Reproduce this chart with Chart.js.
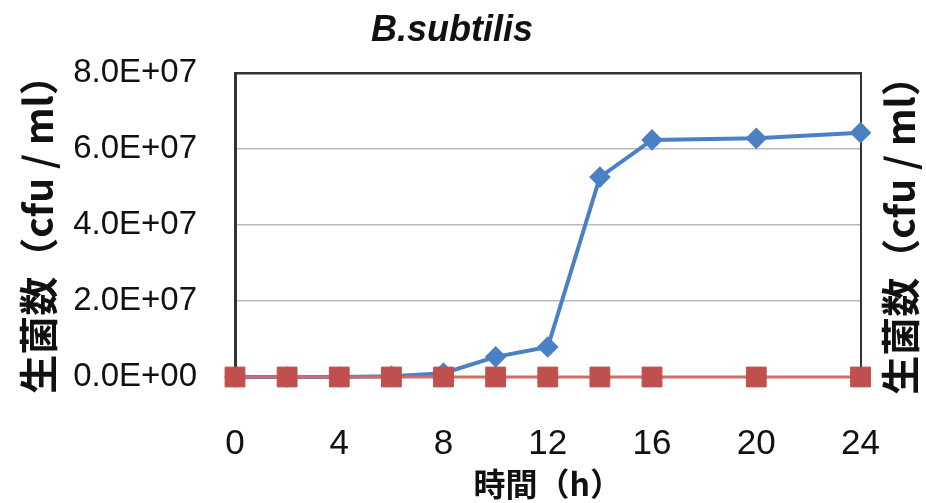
<!DOCTYPE html>
<html><head><meta charset="utf-8">
<script src="https://cdn.jsdelivr.net/npm/chart.js@4/dist/chart.umd.min.js"></script>
<style>html,body{margin:0;padding:0;background:#fff;}#wrap{width:926px;height:503px;}</style>
</head><body><div id="wrap"><canvas id="c" width="926" height="503"></canvas></div>
<script>
const hours = [0, 2, 4, 6, 8, 10, 12, 14, 16, 20, 24];
const blueCounts = [0, 0, 0, 0.2e6, 1.0e6, 5.3e6, 7.9e6, 5.26e7, 6.24e7, 6.28e7, 6.43e7];
const redCounts = [0, 0, 0, 0, 0, 0, 0, 0, 0, 0, 0];
const yTickValues = [0, 2e7, 4e7, 6e7, 8e7];
const xTickValues = [0, 4, 8, 12, 16, 20, 24];
const titleText = 'B.subtilis';
const yTitle = '生菌数（cfu / ml）';
const xTitle = '時間（h）';

function sci(v) {
  const [m, e] = v.toExponential(1).split('e');
  const n = parseInt(e, 10);
  return m.toUpperCase() + 'E' + (n < 0 ? '-' : '+') + String(Math.abs(n)).padStart(2, '0');
}

const rightTitle = {
  id: 'rightTitle',
  afterDraw(chart) {
    const ctx = chart.ctx;
    const a = chart.chartArea;
    ctx.save();
    ctx.translate(900, (a.top + a.bottom) / 2 + 1);
    ctx.rotate(-Math.PI / 2);
    ctx.font = "bold 39px 'Noto Sans CJK JP'";
    ctx.fillStyle = '#111';
    ctx.textAlign = 'center';
    ctx.textBaseline = 'middle';
    ctx.fillText(yTitle, 0, 0);
    ctx.restore();
  }
};

new Chart(document.getElementById('c'), {
  type: 'line',
  data: {
    datasets: [
      {
        label: 'red',
        data: hours.map((h, i) => ({x: h, y: redCounts[i]})),
        borderColor: '#D46B6B',
        backgroundColor: '#C0504D',
        pointBackgroundColor: '#C0504D',
        pointBorderColor: '#C0504D',
        borderWidth: 3,
        pointStyle: 'rect',
        pointRadius: 14,
        pointBorderWidth: 1,
        clip: false
      },
      {
        label: 'blue',
        data: hours.map((h, i) => ({x: h, y: blueCounts[i]})),
        borderColor: '#4A80C4',
        backgroundColor: '#4A80C4',
        pointBackgroundColor: '#4A80C4',
        pointBorderColor: '#4A80C4',
        borderWidth: 4,
        pointStyle: 'rectRot',
        pointRadius: 8,
        clip: false
      }
    ]
  },
  options: {
    responsive: false,
    animation: false,
    devicePixelRatio: 1,
    layout: {padding: {left: 0, top: 0, bottom: 0, right: 22}},
    plugins: {
      legend: {display: false},
      tooltip: {enabled: false},
      title: {
        display: true,
        text: titleText,
        color: '#111',
        font: {family: "'Liberation Sans', Arial, sans-serif", size: 36, weight: 'bold', style: 'italic'},
        padding: {top: 9, bottom: 20.8}
      }
    },
    scales: {
      x: {
        type: 'linear',
        min: 0, max: 24,
        afterBuildTicks: s => { s.ticks = xTickValues.map(v => ({value: v})); },
        grid: {display: false, drawTicks: false},
        border: {display: true, color: '#333', width: 2},
        ticks: {
          padding: 46,
          color: '#111',
          font: {family: "'Liberation Sans', Arial, sans-serif", size: 35}
        },
        title: {
          display: true,
          text: xTitle,
          color: '#111',
          font: {family: "'Noto Sans CJK JP', sans-serif", size: 32, weight: 'bold'},
          padding: {top: 0, bottom: 0}
        },
        afterFit: s => { s.height = 126; }
      },
      y: {
        position: 'left',
        min: 0, max: 8e7,
        afterBuildTicks: s => { s.ticks = yTickValues.map(v => ({value: v})); },
        grid: {
          drawTicks: false,
          color: c => (c.tick && c.tick.value === 8e7) ? '#333' : '#BBBBBB',
          lineWidth: c => (c.tick && c.tick.value === 8e7) ? 2.5 : 1.5
        },
        border: {display: true, color: '#333', width: 3},
        ticks: {
          padding: 38,
          color: '#111',
          font: {family: "'Liberation Sans', Arial, sans-serif", size: 33},
          callback: v => sci(v)
        },
        title: {
          display: true,
          text: yTitle,
          color: '#111',
          font: {family: "'Noto Sans CJK JP', sans-serif", size: 39, weight: 'bold'},
          padding: {top: 15, bottom: 0}
        },
        afterFit: s => { s.width = 235; }
      },
      y2: {
        position: 'right',
        min: 0, max: 8e7,
        grid: {display: false, drawTicks: false},
        border: {display: true, color: '#333', width: 2},
        ticks: {display: false},
        afterFit: s => { s.width = 42; }
      }
    }
  },
  plugins: [rightTitle]
});
</script>
</body></html>
